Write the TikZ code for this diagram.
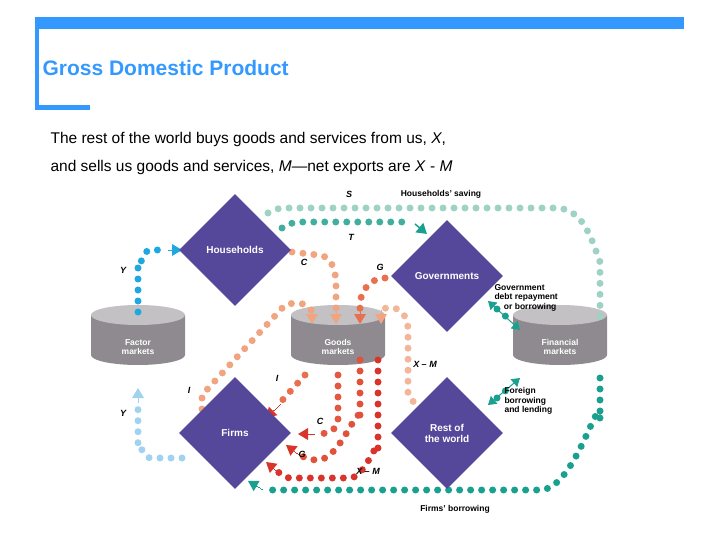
\documentclass[tikz,border=0pt]{standalone}
\usepackage{fontspec}
\setmainfont{Liberation Sans}
\usetikzlibrary{shapes.geometric,arrows.meta}
\definecolor{hdr}{HTML}{3399FF}
\definecolor{dia}{HTML}{55479A}
\definecolor{cylb}{HTML}{8E8A8F}
\definecolor{cylt}{HTML}{C4C1C4}
\definecolor{teal}{HTML}{1AA08E}
\definecolor{lteal}{HTML}{9ED2C4}
\definecolor{lor}{HTML}{F0A47F}
\definecolor{org}{HTML}{E8704E}
\definecolor{rd}{HTML}{D9342B}
\definecolor{blu}{HTML}{1FA8E0}
\definecolor{lblu}{HTML}{9FD3F0}
\tikzset{
 dia/.style={diamond,fill=dia,minimum width=112pt,minimum height=112pt,inner sep=0pt,text=white,font=\bfseries\fontsize{10}{11}\selectfont,align=center},
 dots/.style={line width=7pt,dash pattern=on 0pt off 11pt,line cap=round},
 lab/.style={font=\bfseries\fontsize{8.5}{9.5}\selectfont,align=left},
 il/.style={font=\bfseries\itshape\fontsize{9}{10}\selectfont},
 tip/.style={-{Triangle[length=10pt,width=12pt]}},
 ctxt/.style={text=white,font=\bfseries\fontsize{8.5}{9}\selectfont,align=center}
}
\newcommand{\mycyl}[4]{%
 \fill[cylb] (#1-47,#2-20) -- (#1-47,#2+20) arc[start angle=180,end angle=0,x radius=47,y radius=10] -- (#1+47,#2-20) -- cycle;
 \fill[cylt] (#1,#2-20) ellipse[x radius=47,y radius=10];
 \node[ctxt] (#3) at (#1,#2+12) {#4};}
\begin{document}
\begin{tikzpicture}[x=1pt,y=-1pt]
\useasboundingbox (0,0) rectangle (720,540);
\fill[hdr] (35,17) rectangle (684,29);
\fill[hdr] (35,17) rectangle (39,110);
\fill[hdr] (35,105) rectangle (90,110);
\node[anchor=west,text=hdr,font=\bfseries\fontsize{21}{24}\selectfont] (title) at (39,68) {Gross Domestic Product};
\node[anchor=north west,align=left,font=\fontsize{15.5}{28}\selectfont] (body) at (47,129) {The rest of the world buys goods and services from us, \textit{X},\\and sells us goods and services, \textit{M}---net exports are \textit{X} - \textit{M}};
% cylinders
\mycyl{138}{335}{fm}{Factor\\markets}
\mycyl{338}{335}{gm}{Goods\\markets}
\mycyl{560}{335}{fin}{Financial\\markets}
% flows
\draw[dots,lteal] (268,213) -- (280,208) -- (555,208) to[out=0,in=110] (600,262) -- (600,322);
\draw[dots,teal!70!lteal] (282,228) to[out=30,in=180] (300,222) -- (410,222);
\draw[tip,teal,line width=1.5pt] (415,224) -- (427,234);
\draw[dots,lor] (292,252) -- (318,255) to[out=0,in=90] (336,285) -- (336,308);
\draw[tip,lor,line width=0pt] (336,308) -- (336,324);
\draw[dots,org] (385,278) to[out=180,in=90] (360,305) -- (360,310);
\draw[tip,org,line width=0pt] (360,310) -- (360,324);
\draw[dots,lor] (202,420) -- (202,395) -- (285,305) to[out=20,in=90] (312,314);
\draw[tip,lor,line width=0pt] (312,310) -- (312,324);
\draw[dots,lor!80!white] (420,410) -- (408,395) -- (408,330) to[out=90,in=0] (392,308) to[out=180,in=90] (381,312);
\draw[tip,lor,line width=0pt] (381,310) -- (381,324);
\draw[dots,org] (305,375) -- (278,405);
\draw[tip,rd,line width=0pt] (280,404) -- (266,418);
\draw[dots,org!60!rd] (338,375) -- (338,420) to[out=-90,in=0] (318,434);
\draw[tip,rd,line width=0pt] (314,434) -- (298,434);
\draw[dots,org!50!rd] (360,360) -- (360,420) to[out=90,in=0] (318,460) to[out=180,in=-30] (300,455);
\draw[tip,rd,line width=0pt] (298,454) -- (286,445);
\draw[dots,rd] (378,360) -- (378,450) to[out=90,in=0] (350,478) -- (290,478) to[out=180,in=-30] (278,472);
\draw[tip,rd,line width=0pt] (278,472) -- (266,462);
\draw[dots,blu] (138,312) -- (138,268) to[out=-90,in=180] (150,250) -- (166,250);
\draw[tip,blu,line width=0pt] (168,250) -- (182,250);
\draw[dots,lblu] (182,458) -- (150,458) to[out=180,in=90] (138,445) -- (138,404);
\draw[tip,lblu,line width=0pt] (138,402) -- (138,388);
\draw[dots,teal] (600,378) -- (600,420) to[out=90,in=0] (540,490) -- (264,490);
\draw[tip,teal,line width=0pt] (262,489) -- (248,481);
\draw[dots,teal] (497,309) -- (510,320);
\draw[{Triangle[length=8pt,width=10pt]}-{Triangle[length=8pt,width=10pt]},teal,line width=1pt] (488,301) -- (520,330);
\draw[dots,teal] (497,398) -- (510,387);
\draw[{Triangle[length=8pt,width=10pt]}-{Triangle[length=8pt,width=10pt]},teal,line width=1pt] (488,405) -- (520,378);
% diamonds
\node[dia] (hh) at (235,250) {Households};
\node[dia] (gov) at (447,276) {Governments};
\node[dia] (firms) at (235,433) {Firms};
\node[dia] (row) at (447,433) {Rest of\\the world};
% labels
\node[il] (lS) at (349,194) {S};
\node[lab] (lhs) at (441,194) {Households' saving};
\node[il] (lT) at (351,237) {T};
\node[il] (lC1) at (304,262) {C};
\node[il] (lG1) at (380,267) {G};
\node[il] (lY1) at (123,270) {Y};
\node[il] (lY2) at (123,413) {Y};
\node[il] (lI1) at (189,390) {I};
\node[il] (lI2) at (277,378) {I};
\node[il] (lXM1) at (425,364) {X -- M};
\node[il] (lC2) at (320,421) {C};
\node[il] (lG2) at (302,454) {G};
\node[il] (lXM2) at (368,471) {X -- M};
\node[lab,anchor=north west] (ldebt) at (491,281) {Government\\debt repayment\\\ \ \ \ or borrowing};
\node[lab,anchor=north west] (lfor) at (501,384) {Foreign\\borrowing\\and lending};
\node[lab] (lfb) at (455,509) {Firms' borrowing};
\end{tikzpicture}
\end{document}
